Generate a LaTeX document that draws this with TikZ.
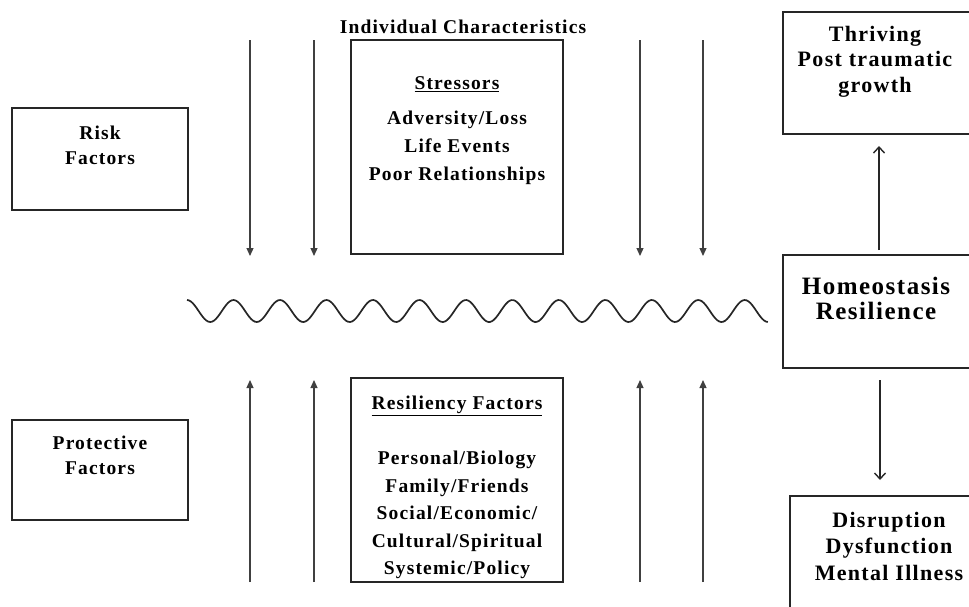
\documentclass[tikz,border=0pt]{standalone}
\usepackage{fontspec}
\setmainfont{Liberation Serif}[LetterSpace=6]
\usetikzlibrary{arrows.meta}
\begin{document}
\begin{tikzpicture}[x=1pt,y=-1pt,
  box/.style={draw=black!85,line width=1.5pt},
  txt/.style={font=\fontsize{19.5}{28}\selectfont\bfseries,align=center,inner sep=0pt,anchor=north},
  rtxt/.style={font=\fontsize{22}{26}\selectfont\bfseries,align=center,inner sep=0pt,anchor=north},
  bigtxt/.style={font=\fontsize{25}{25}\selectfont\bfseries,align=center,inner sep=0pt,anchor=north},
  darr/.style={draw=black!75,line width=1.2pt,-{Triangle[length=8pt,width=7pt]}},
  oarr/.style={draw=black!85,line width=1.6pt,-{Straight Barb[length=6pt,width=11pt,line width=1.4pt]}}]
\useasboundingbox (0,0) rectangle (969,606);
% boxes
\draw[box] (12,108) rectangle (188,210);
\draw[box] (12,420) rectangle (188,520);
\draw[box] (351,40) rectangle (563,254);
\draw[box] (351,378) rectangle (563,582);
\draw[box] (975,12) -- (783,12) -- (783,134) -- (975,134);
\draw[box] (975,255) -- (783,255) -- (783,368) -- (975,368);
\draw[box] (975,496) -- (790,496) -- (790,615);
% texts
\node (tc) [txt] at (463,20) {Individual Characteristics};
\node (rk) [txt] at (100,126) {Risk\\[-3pt]Factors};
\node (pf) [txt] at (100,436) {Protective\\[-3pt]Factors};
\node (st) [txt] at (457,76) {\underline{Stressors}};
\node (stl) [txt] at (457,111) {Adversity/Loss\\Life Events\\Poor Relationships};
\node (rf) [txt] at (457,396) {\underline{Resiliency Factors}};
\node (rfl) [txt,font=\fontsize{19.5}{27.5}\selectfont\bfseries] at (457,451) {Personal/Biology\\Family/Friends\\Social/Economic/\\Cultural/Spiritual\\Systemic/Policy};
\node (th) [rtxt,font=\fontsize{22}{25.5}\selectfont\bfseries] at (875,26) {Thriving\\Post traumatic\\growth};
\node (ho) [bigtxt] at (876,277) {Homeostasis\\Resilience};
\node (di) [rtxt,font=\fontsize{22}{26.5}\selectfont\bfseries] at (889,512) {Disruption\\Dysfunction\\Mental Illness};
% arrows
\foreach \x/\n in {250/a,314/b,640/c,703/d}{
  \coordinate (\n1) at (\x,40);
  \coordinate (\n2) at (\x,256);
  \coordinate (\n3) at (\x,582);
  \coordinate (\n4) at (\x,380);
  \draw[darr] (\n1) -- (\n2);
  \draw[darr] (\n3) -- (\n4);
}
\coordinate (u1) at (879,250);
\coordinate (u2) at (879,146);
\coordinate (v1) at (880,380);
\coordinate (v2) at (880,480);
\draw[oarr] (u1) -- (u2);
\draw[oarr] (v1) -- (v2);
% wave
\draw[black!85,line width=1.7pt,domain=0:12.5,samples=300,smooth] plot ({187+46.48*\x},{311-11*cos(360*\x)});
\end{tikzpicture}
\end{document}
